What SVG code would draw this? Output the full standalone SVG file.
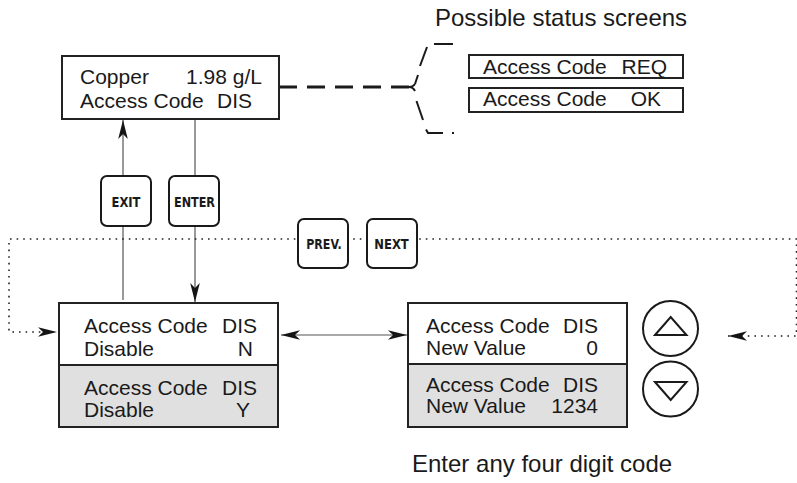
<svg xmlns="http://www.w3.org/2000/svg" width="797" height="483" viewBox="0 0 797 483">
<defs>
<marker id="ah" markerUnits="userSpaceOnUse" viewBox="0 0 20 12" markerWidth="20" markerHeight="12" refX="19" refY="6" orient="auto-start-reverse">
<path d="M0,1.2 L19,6 L0,10.8 L5,6 z" fill="#151515"/>
</marker>
<style>
.scr{fill:#fff;stroke:#222;stroke-width:2}
.gray{fill:#e0e0e0;stroke:#222;stroke-width:2}
.t{font-family:"Liberation Sans",Arial,sans-serif;font-size:21px;fill:#1a1a1a}
.e{text-anchor:end}
.btn{fill:#fff;stroke:#1a1a1a;stroke-width:2}
.bt{font-family:"DejaVu Sans",sans-serif;font-weight:bold;font-size:13.5px;text-anchor:middle;fill:#1a1a1a}
.dot{fill:none;stroke:#222;stroke-width:1.6;stroke-dasharray:1.6 5}
.thin{stroke:#555;stroke-width:1.2;fill:none}
.br{stroke:#1a1a1a;stroke-width:2;fill:none}
.lab{font-family:"Liberation Sans",Arial,sans-serif;font-size:24px;fill:#1a1a1a}
</style>
</defs>
<rect width="797" height="483" fill="#fff"/>

<g id="connectors">
<path class="thin" d="M123,300 V120" marker-end="url(#ah)"/>
<path class="thin" d="M195,119 V302" marker-end="url(#ah)"/>
<path d="M279,87 H411" stroke="#1a1a1a" stroke-width="3" stroke-dasharray="18 10" fill="none"/>
<path class="dot" d="M728,336 H796.5 V239 H9 V332 H57" marker-start="url(#ah)" marker-end="url(#ah)"/>
<path class="thin" d="M281,335 H407" stroke="#222" marker-start="url(#ah)" marker-end="url(#ah)"/>
</g>

<g id="status-brace">
<path class="br" d="M434,44 H453"/>
<path class="br" d="M427,47 L420,66"/>
<path class="br" d="M418,75 L415,84"/>
<path class="br" d="M409,87 Q413,87 415,84"/>
<path class="br" d="M409,87 Q413,87 415,91"/>
<path class="br" d="M416.5,101 L423,120"/>
<path class="br" d="M426,129.5 L428,133 H443"/>
<path class="br" d="M452,133 H454"/>
</g>

<g id="main-screen">
<rect class="scr" x="62" y="56" width="217" height="63"/>
<text class="t" x="80" y="84">Copper</text>
<text class="t e" x="262" y="84">1.98 g/L</text>
<text class="t" x="80" y="108">Access Code</text>
<text class="t e" x="252" y="108">DIS</text>
</g>

<text class="lab" x="435" y="26">Possible status screens</text>

<g id="status-req">
<rect class="scr" x="469" y="55" width="214" height="23"/>
<text class="t" x="483" y="74">Access Code</text>
<text class="t e" x="667" y="74">REQ</text>
</g>
<g id="status-ok">
<rect class="scr" x="469" y="88" width="214" height="24"/>
<text class="t" x="483" y="106">Access Code</text>
<text class="t e" x="661" y="106">OK</text>
</g>

<g id="btn-exit">
<rect class="btn" x="101" y="176" width="50" height="50" rx="6"/>
<text class="bt" x="126" y="206.5" textLength="29" lengthAdjust="spacingAndGlyphs">EXIT</text>
</g>
<g id="btn-enter">
<rect class="btn" x="169" y="176" width="50" height="50" rx="6"/>
<text class="bt" x="194.5" y="206.5" textLength="41" lengthAdjust="spacingAndGlyphs">ENTER</text>
</g>
<g id="btn-prev">
<rect class="btn" x="298" y="219" width="50" height="49" rx="6"/>
<text class="bt" x="324" y="248.5" textLength="35.5" lengthAdjust="spacingAndGlyphs">PREV.</text>
</g>
<g id="btn-next">
<rect class="btn" x="367" y="219" width="50" height="49" rx="6"/>
<text class="bt" x="391.5" y="248.5" textLength="34.5" lengthAdjust="spacingAndGlyphs">NEXT</text>
</g>

<g id="disable-screen">
<rect class="scr" x="59" y="303" width="219" height="124"/>
<rect class="gray" x="59" y="365" width="219" height="62"/>
<text class="t" x="84" y="333">Access Code</text>
<text class="t e" x="257" y="333">DIS</text>
<text class="t" x="84" y="356">Disable</text>
<text class="t e" x="253" y="356">N</text>
<text class="t" x="84" y="395">Access Code</text>
<text class="t e" x="257" y="395">DIS</text>
<text class="t" x="84" y="417">Disable</text>
<text class="t e" x="250" y="417">Y</text>
</g>

<g id="value-screen">
<rect class="scr" x="408" y="303" width="219" height="124"/>
<rect class="gray" x="408" y="364" width="219" height="63"/>
<text class="t" x="426" y="333">Access Code</text>
<text class="t e" x="598" y="333">DIS</text>
<text class="t" x="426" y="355">New Value</text>
<text class="t e" x="598" y="355">0</text>
<text class="t" x="426" y="392">Access Code</text>
<text class="t e" x="598" y="392">DIS</text>
<text class="t" x="426" y="413">New Value</text>
<text class="t e" x="598" y="413">1234</text>
</g>

<g id="btn-up">
<circle cx="670.5" cy="328.5" r="27.5" fill="#fff" stroke="#1a1a1a" stroke-width="2"/>
<path d="M655,335 L670.7,317 L686.5,335 Z" fill="none" stroke="#1a1a1a" stroke-width="2" stroke-linejoin="miter"/>
</g>
<g id="btn-down">
<circle cx="670.5" cy="389" r="27.5" fill="#fff" stroke="#1a1a1a" stroke-width="2"/>
<path d="M655,382 L670.7,400 L686.5,382 Z" fill="none" stroke="#1a1a1a" stroke-width="2" stroke-linejoin="miter"/>
</g>

<text class="lab" x="412" y="472">Enter any four digit code</text>
</svg>
